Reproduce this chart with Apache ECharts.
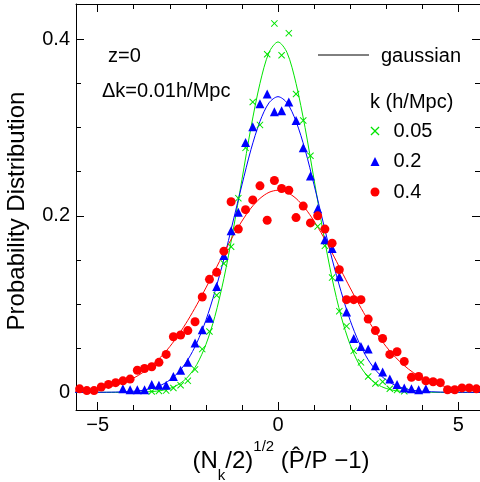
<!DOCTYPE html>
<html><head><meta charset="utf-8">
<script src="https://cdn.jsdelivr.net/npm/echarts@6/dist/echarts.min.js"></script>
<style>html,body{margin:0;padding:0;background:#fff}#c{width:480px;height:482px}</style>
</head><body><div id="c"></div><script>
// ---- tick values ----
const xMajorTicks = [-5, 0, 5];
const xMinorTicks = [-5, -4, -3, -2, -1, 0, 1, 2, 3, 4, 5];
const yMajorTicks = [0, 0.2, 0.4];
const yMinorTicks = [0, 0.05, 0.1, 0.15, 0.2, 0.25, 0.3, 0.35, 0.4];
const seriesNames = ['0.05', '0.2', '0.4'];

// ---- measured histograms ----
const greenX = [-3.5,-3.3,-3.1,-2.9,-2.7,-2.5,-2.3,-2.1,-1.9,-1.7,-1.5,-1.3,-1.1,-0.9,-0.7,-0.5,-0.3,-0.1,
                0.1,0.3,0.5,0.7,0.9,1.1,1.3,1.5,1.7,1.9,2.1,2.3,2.5,2.7,2.9,3.1,3.3,3.5];
const greenY = [0.001,0.0015,0.002,0.005,0.008,0.013,0.026,0.049,0.069,0.110,0.146,0.165,0.220,0.277,0.329,0.303,0.383,0.418,
                0.382,0.407,0.338,0.308,0.268,0.188,0.166,0.130,0.092,0.075,0.047,0.034,0.018,0.010,0.012,0.004,0.0026,0.0012];

const blueX = [-4.3,-4.1,-3.9,-3.7,-3.5,-3.3,-3.1,-2.9,-2.7,-2.5,-2.3,-2.1,-1.9,-1.7,-1.5,-1.3,-1.1,-0.9,-0.7,-0.5,-0.3,-0.1,
               0.1,0.3,0.5,0.7,0.9,1.1,1.3,1.5,1.7,1.9,2.1,2.3,2.5,2.7,2.9,3.1,3.3,3.5,3.7,3.9,4.1];
const blueY = [0.004,0.003,0.003,0.003,0.009,0.008,0.008,0.018,0.025,0.034,0.056,0.071,0.084,0.120,0.155,0.183,0.204,0.283,0.301,0.327,0.338,0.318,
               0.319,0.329,0.308,0.277,0.245,0.208,0.173,0.163,0.131,0.091,0.061,0.052,0.049,0.030,0.023,0.015,0.009,0.005,0.004,0.003,0.004];

const redX = [-5.5,-5.3,-5.1,-4.9,-4.7,-4.5,-4.3,-4.1,-3.9,-3.7,-3.5,-3.3,-3.1,-2.9,-2.7,-2.5,-2.3,-2.1,-1.9,-1.7,-1.5,-1.3,-1.1,-0.9,-0.7,-0.5,-0.3,-0.1,
              0.1,0.3,0.5,0.7,0.9,1.1,1.3,1.5,1.7,1.9,2.1,2.3,2.5,2.7,2.9,3.1,3.3,3.5,3.7,3.9,4.1,4.3,4.5,4.7,4.9,5.1,5.3,5.5];
const redY = [0.004,0.002,0.002,0.006,0.009,0.011,0.013,0.015,0.025,0.027,0.029,0.034,0.043,0.063,0.065,0.070,0.080,0.108,0.128,0.136,0.160,0.216,0.185,0.207,0.218,0.234,0.195,0.240,
              0.231,0.229,0.198,0.211,0.192,0.200,0.185,0.169,0.139,0.105,0.105,0.105,0.083,0.070,0.061,0.043,0.046,0.035,0.017,0.018,0.013,0.012,0.011,0.003,0.003,0.005,0.005,0.004];

// ---- gaussian curves (symmetric, values read at |x| grid) ----
const gaussX     = [0,0.25,0.5,0.75,1,1.25,1.5,1.75,2,2.25,2.5,2.75,3,3.25,3.5,3.75,4,4.5,5,5.5,6];
const gaussGreen = [0.397,0.385,0.350,0.300,0.241,0.182,0.129,0.086,0.054,0.0316,0.0175,0.0091,0.0044,0.0020,0.0009,0.00035,0.0001,0,0,0,0];
const gaussBlue  = [0.335,0.328,0.307,0.275,0.235,0.193,0.151,0.114,0.0816,0.0561,0.0369,0.0232,0.0140,0.0080,0.0044,0.0023,0.0012,0.0003,0.0001,0,0];
const gaussRed   = [0.229,0.2266,0.2197,0.2087,0.194,0.1769,0.158,0.1381,0.1183,0.0993,0.0816,0.0657,0.0518,0.0400,0.0303,0.0224,0.0163,0.0081,0.0037,0.0016,0.0006];

const FONT = '"Liberation Sans", Arial, Helvetica, sans-serif';
const GREEN = '#00e400', BLUE = '#0000ff', RED = '#ff0000';

function pairs(xs, ys) { return xs.map((x, i) => [x, ys[i]]); }
function mirror(xs, ys) {
  const out = [];
  for (let i = xs.length - 1; i > 0; i--) out.push([-xs[i], ys[i]]);
  for (let i = 0; i < xs.length; i++) out.push([xs[i], ys[i]]);
  return out;
}

const X_MIN = -5.6, X_MAX = 5.6, Y_MIN = -0.02, Y_MAX = 0.44;
const blk = { color: '#000', width: 1 };
function xAx(pos, ticks, len, labels, line) {
  return {
    type: 'value', min: X_MIN, max: X_MAX, position: pos,
    axisLine: { show: line, onZero: false, lineStyle: blk },
    splitLine: { show: false },
    axisTick: { show: true, inside: true, length: len, customValues: ticks, lineStyle: blk },
    axisLabel: labels ? { show: true, customValues: ticks, margin: 5, fontSize: 20, fontFamily: FONT, color: '#000',
      formatter: v => String(v).replace('-', '\u2212') } : { show: false }
  };
}
function yAx(pos, ticks, len, labels, line) {
  return {
    type: 'value', min: Y_MIN, max: Y_MAX, position: pos,
    axisLine: { show: line, onZero: false, lineStyle: blk },
    splitLine: { show: false },
    axisTick: { show: true, inside: true, length: len, customValues: ticks, lineStyle: blk },
    axisLabel: labels ? { show: true, customValues: ticks, margin: 6, fontSize: 20, fontFamily: FONT, color: '#000',
      formatter: v => (v === 0 ? '0' : String(v)) } : { show: false }
  };
}

const crossPath = 'path://M0,1 L1,0 L5,4 L9,0 L10,1 L6,5 L10,9 L9,10 L5,6 L1,10 L0,9 L4,5 Z';

const chart = echarts.init(document.getElementById('c'), null, { renderer: 'canvas' });
chart.setOption({
  animation: false,
  backgroundColor: '#fff',
  grid: { left: 76, top: 4, width: 405, height: 406, containLabel: false },
  xAxis: [
    xAx('bottom', xMajorTicks, 8, true, true),
    xAx('bottom', xMinorTicks, 5, false, false),
    xAx('top', xMajorTicks, 8, false, true),
    xAx('top', xMinorTicks, 5, false, false)
  ],
  yAxis: [
    yAx('left', yMajorTicks, 8, true, true),
    yAx('left', yMinorTicks, 5, false, false),
    yAx('right', yMajorTicks, 8, false, true),
    yAx('right', yMinorTicks, 5, false, false)
  ],
  legend: {
    data: seriesNames, orient: 'vertical', left: 370.5, top: 121, padding: 0,
    itemWidth: 9, itemHeight: 9, itemGap: 10.5, selectedMode: false,
    textStyle: { fontSize: 20, fontFamily: FONT, color: '#000', padding: [0, 0, 0, 9] }
  },
  series: [
    { name: 'g-0.05', type: 'line', data: mirror(gaussX, gaussGreen), showSymbol: false, smooth: 0.3, silent: true,
      lineStyle: { color: GREEN, width: 1 }, itemStyle: { color: GREEN }, z: 2 },
    { name: 'g-0.2', type: 'line', data: mirror(gaussX, gaussBlue), showSymbol: false, smooth: 0.3, silent: true,
      lineStyle: { color: BLUE, width: 1 }, itemStyle: { color: BLUE }, z: 2 },
    { name: 'g-0.4', type: 'line', data: mirror(gaussX, gaussRed), showSymbol: false, smooth: 0.3, silent: true,
      lineStyle: { color: RED, width: 1 }, itemStyle: { color: RED }, z: 2 },
    { name: seriesNames[0], type: 'scatter', data: pairs(greenX, greenY), symbol: crossPath, symbolSize: 7,
      itemStyle: { color: GREEN, opacity: 1 }, z: 3 },
    { name: seriesNames[1], type: 'scatter', data: pairs(blueX, blueY), symbol: 'triangle', symbolSize: 9,
      itemStyle: { color: BLUE, opacity: 1 }, z: 3 },
    { name: seriesNames[2], type: 'scatter', data: pairs(redX, redY), symbol: 'circle', symbolSize: 9,
      itemStyle: { color: RED, opacity: 1 }, z: 3 }
  ],
  graphic: [
    { type: 'text', x: 108, y: 56, style: { text: 'z=0', fontSize: 20, fontFamily: FONT, fill: '#000', align: 'left', verticalAlign: 'middle' } },
    { type: 'text', x: 102, y: 91, style: { text: '\u0394k=0.01h/Mpc', fontSize: 20, fontFamily: FONT, fill: '#000', align: 'left', verticalAlign: 'middle' } },
    { type: 'line', shape: { x1: 318, y1: 55, x2: 369, y2: 55 }, style: { stroke: '#000', lineWidth: 1 } },
    { type: 'text', x: 381, y: 56, style: { text: 'gaussian', fontSize: 20, fontFamily: FONT, fill: '#000', align: 'left', verticalAlign: 'middle' } },
    { type: 'text', x: 370, y: 102, style: { text: 'k (h/Mpc)', fontSize: 20, fontFamily: FONT, fill: '#000', align: 'left', verticalAlign: 'middle' } },
    { type: 'text', x: 17, y: 211, rotation: Math.PI / 2,
      style: { text: 'Probability Distribution', fontSize: 24, fontFamily: FONT, fill: '#000', align: 'center', verticalAlign: 'middle' } },
    { type: 'text', x: 281, y: 461,
      style: { text: '(N{sub|k}/2){sup|1/2} (P\u0302/P \u22121)', fontSize: 24, lineHeight: 44, fontFamily: FONT, fill: '#000',
        align: 'center', verticalAlign: 'middle',
        rich: {
          sub: { fontSize: 15, lineHeight: 33, verticalAlign: 'bottom', fontFamily: FONT, fill: '#000' },
          sup: { fontSize: 15, lineHeight: 15, verticalAlign: 'top', fontFamily: FONT, fill: '#000' }
        } } }
  ]
});
</script></body></html>
